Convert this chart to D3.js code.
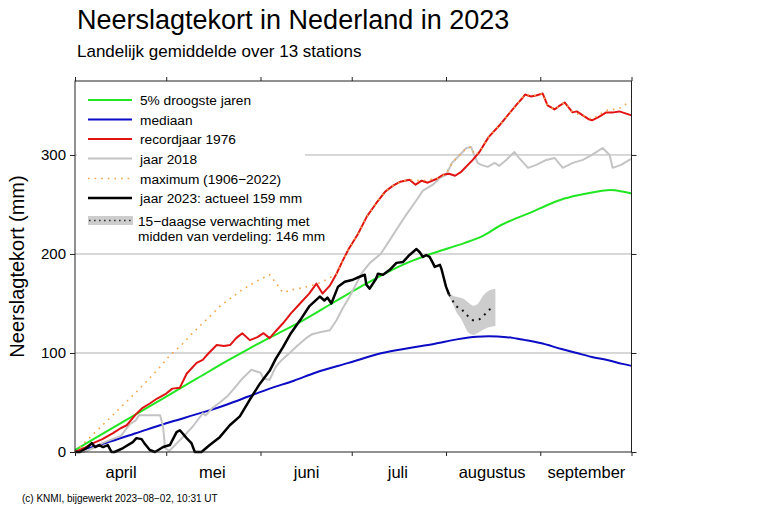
<!DOCTYPE html>
<html>
<head>
<meta charset="utf-8">
<script src="https://cdn.jsdelivr.net/npm/d3@7"></script>
<style>
  html, body { margin: 0; padding: 0; background: #fff; }
  svg { display: block; font-family: "Liberation Sans", Arial, Helvetica, sans-serif; }
</style>
</head>
<body>
<svg id="chart" width="770" height="513"></svg>
<script>
// ---------- data (day = days after 1 April 2023, value = mm) ----------
const titleText = "Neerslagtekort in Nederland in 2023";
const subtitleText = "Landelijk gemiddelde over 13 stations";
const footerText = "(c) KNMI, bijgewerkt 2023\u221208\u221202, 10:31 UT";
const yLabel = "Neerslagtekort (mm)";
const monthLabels = ["april", "mei", "juni", "juli", "augustus", "september"];
const yTicks = [0, 100, 200, 300];

const legendLabels = [
  "5% droogste jaren", "mediaan", "recordjaar 1976", "jaar 2018",
  "maximum (1906\u22122022)", "jaar 2023: actueel 159 mm"
];
const forecastLabel = ["15\u2212daagse verwachting met", "midden van verdeling: 146 mm"];

const droogste5 = [[0,2],[10,20],[20,38],[30,56],[40,74],[50,92],[57,104],[65,117],[75,133],[85,151],
  [94,167],[103,182],[110,192],[116,199],[123,206],[128,211],[134,218],[140,229],[145,236],[150,242],
  [155,249],[160,255],[165,259],[170,262],[176,264.5],[180,263],[183,261]];

const mediaan = [[0,0],[10,9],[20,19],[30,29],[42,40],[50,48],[57,56],[64,64],[72,72],[79,80],[90,90],
  [101,100],[110,105],[118,109],[126,114],[132,116.5],[136,117],[142,116],[148,113],[153,110],[160,104],
  [165,100],[170,96],[175,93],[180,89],[183,87]];

const jaar1976 = [[0,0],[3,4],[6,9],[9,13],[12.5,19],[15,24],[17,27],[20,38],[22,44],[24.6,49],[27,54],
  [30,59],[32,64],[34.5,65],[36.7,79],[40,90],[42,93],[44,100],[46.6,108],[49,107],[51,108],[53,115],
  [55,120],[57.5,113],[60,116],[62,120],[64,115],[66,122],[68.4,130],[71,140],[74,150],[77,160],
  [79.4,170],[81.4,160],[83.8,168],[86,180],[88,193],[90,205],[93,220],[96,238],[99,251],[102,263],
  [104.6,269],[107,273],[110,275],[112,270],[114,274],[116,272],[119,276],[121,280],[123,281],[125,279],
  [127,283],[130.8,295],[133,303],[136,318],[139.6,330],[142,339],[145,350],[147,357],[148,361],[150,359],
  [151.6,360],[153.8,362],[155.4,350],[157.7,346],[159,349],[161,353],[163.6,343],[165,344],[167,340],
  [169,336],[170,335],[172,338],[174.7,343],[177,343],[179,344],[181,342],[183,340]];

const jaar2018 = [[0,0],[3,0],[6,4],[9,9],[11.5,12],[15,16],[18,28],[20,32],[21,37],[23.6,37],[28,37],
  [29,25],[29.6,4],[31,1],[34.5,12],[36.7,19],[38.8,26],[42,39],[43,37],[45,44],[47.6,50],[50,56],[52,63],
  [55,74],[58,83],[61,80],[62,74],[64,73],[66,86],[68,93],[70.6,100],[73,107],[76,115],[78,119],[80.5,121],
  [83.8,123],[86,133],[88,145],[90.3,157],[92.5,170],[94.6,182],[97,191],[100.5,200],[103.5,214],
  [106,226],[109,240],[112,253],[114.4,264],[117.7,270],[120,277],[122,280],[124,292],[126.5,300],
  [128.7,307],[130.3,308],[131,302],[132.4,292],[133.6,290],[135.7,288],[138,292],[139.5,289],[141.8,295],
  [144.5,303],[146,297],[149,287],[151.7,290],[155,295],[157.7,297],[160.4,287],[163.7,292],[167,295],
  [170,300],[173.5,307],[175.8,300],[176.8,287],[179.6,290],[182.3,295],[183,296]];

const maximum = [[0,0],[5,15],[10,30],[15,45],[20,60],[25,76],[28,86],[31,97],[35,108],[38,118],[42,130],
  [45,139],[47.6,147],[51,155],[55,164],[60,173],[64,179],[66,171],[68.4,161],[71.6,164],[75,166],[79,169],
  [82.7,174],[86,180],[88,193],[90,205],[93,220],[96,238],[99,251],[102,263],[104.6,269],[107,273],
  [110,275],[114,274],[119,276],[122,281],[124,292],[126.5,300],[128.7,307],[130.3,308],[131.4,300],
  [133,303],[136,318],[139.6,330],[142,339],[145,350],[148,361],[151.6,360],[153.8,362],[155.4,350],
  [157.7,346],[161,353],[163.6,343],[167,340],[170,336],[172.5,341],[174.7,345],[177,346],[179,347],
  [181,351],[183,354]];

const jaar2023 = [[0,0],[1.6,0],[3.8,4],[5.5,9],[6.6,5],[8,7],[9.2,5],[10.8,7],[12,0],[13,0],[15.8,4],
  [19,10],[20.2,14],[21.9,13],[23,8],[24.6,2],[26.3,0],[29,5],[31.2,7],[33.4,20],[34.5,22],[36.7,14],
  [38.3,9],[39.4,0],[41.6,0],[44.3,7],[47.6,15],[50.9,27],[54.2,36],[57.5,53],[60.8,69],[64,82],[66,94],
  [68.4,106],[71,120],[74,133],[77,147],[80.5,157],[82,153],[83,156],[84.3,150],[86.5,167],[88.7,172],
  [91.4,174],[93.6,177],[95.3,179],[95.8,169],[96.9,165],[99,175],[99.6,180],[101.3,179],[103.5,184],
  [105.7,191],[107.9,192],[110,199],[112.3,205],[113.3,202],[114.4,197],[115.5,199],[116.6,197],
  [117.5,192],[118.3,187],[120,189],[120.5,185],[121,179],[122,167],[123,159]];

const verwachtingMidden = [[123,159],[124,154],[125,148],[126,146],[127,145],[128,141],[129.3,137],
  [130.9,133],[132,134],[133,134],[134.5,138],[135.8,143],[137,145],[138,146]];
const verwachtingBoven = [[123,160],[124.3,157],[125.4,156],[127.6,154],[129.3,150],[131,147],
  [132.6,149],[134.3,157],[136,162],[138,164]];
const verwachtingOnder = [[123,158],[124.3,151],[125.4,143],[127,137],[128.2,128],[129.3,122],[131,119],
  [133,122],[134.7,125],[136.3,127],[138,128]];

// ---------- layout ----------
const svg = d3.select("#chart");
const M = { left: 75, right: 631.5, top: 81, bottom: 452 };
const start = Date.UTC(2023, 3, 1);
const dayToDate = d => new Date(start + d * 864e5);

const x = d3.scaleUtc()
  .domain([new Date(Date.UTC(2023, 3, 1)), new Date(Date.UTC(2023, 9, 1))])
  .range([M.left, M.right]);
const y = d3.scaleLinear().domain([0, 374.7]).range([M.bottom, M.top]);

const col = {
  green: "#22e622", blue: "#0c0cc4", red: "#e01414", gray: "#c4c4c4",
  orange: "#f5a445", black: "#000", band: "#cdcdcd", grid: "#b0b0b0"
};

// titles
svg.append("text").attr("x", 77).attr("y", 29).attr("font-size", 27).attr("fill", "#000").text(titleText);
svg.append("text").attr("x", 77).attr("y", 57).attr("font-size", 17).attr("fill", "#000").text(subtitleText);
svg.append("text").attr("x", 22).attr("y", 502).attr("font-size", 10).attr("fill", "#000").text(footerText);
svg.append("text")
  .attr("transform", `translate(24,${(M.top + M.bottom) / 2}) rotate(-90)`)
  .attr("text-anchor", "middle").attr("font-size", 20).text(yLabel);

// gridlines
svg.append("g").selectAll("line").data(yTicks.filter(v => v > 0)).join("line")
  .attr("x1", M.left).attr("x2", M.right)
  .attr("y1", d => y(d)).attr("y2", d => y(d))
  .attr("stroke", col.grid).attr("stroke-width", 1);

// line helpers
const lineGen = (curve) => d3.line()
  .x(d => x(dayToDate(d[0]))).y(d => y(d[1])).curve(curve || d3.curveLinear);

const plot = svg.append("g");
plot.append("path").datum(droogste5).attr("d", lineGen(d3.curveMonotoneX))
  .attr("fill", "none").attr("stroke", col.green).attr("stroke-width", 2);
plot.append("path").datum(mediaan).attr("d", lineGen(d3.curveMonotoneX))
  .attr("fill", "none").attr("stroke", col.blue).attr("stroke-width", 2);
plot.append("path").datum(jaar2018).attr("d", lineGen())
  .attr("fill", "none").attr("stroke", col.gray).attr("stroke-width", 2).attr("stroke-linejoin", "round");
plot.append("path").datum(jaar1976).attr("d", lineGen())
  .attr("fill", "none").attr("stroke", col.red).attr("stroke-width", 2).attr("stroke-linejoin", "round");
plot.append("path").datum(maximum).attr("d", lineGen())
  .attr("fill", "none").attr("stroke", col.orange).attr("stroke-width", 1.6)
  .attr("stroke-dasharray", "1.6,5");

// forecast band (upper edge, lower edge read at the same days)
const area = d3.area()
  .x(d => x(dayToDate(d[0]))).y0(d => y(d[1])).y1(d => y(d[2])).curve(d3.curveMonotoneX);
const lowAt = d3.scaleLinear().domain(verwachtingOnder.map(d => d[0])).range(verwachtingOnder.map(d => d[1]));
const bandPts = verwachtingBoven.map(d => [d[0], lowAt(d[0]), d[1]]);
plot.append("path").datum(bandPts).attr("d", area).attr("fill", col.band).attr("stroke", col.band).attr("stroke-width", 1.5);

plot.append("path").datum(jaar2023).attr("d", lineGen())
  .attr("fill", "none").attr("stroke", col.black).attr("stroke-width", 2.5).attr("stroke-linejoin", "round");
plot.append("path").datum(verwachtingMidden).attr("d", lineGen())
  .attr("fill", "none").attr("stroke", "#111").attr("stroke-width", 2)
  .attr("stroke-dasharray", "2,5");

// legend
const lg = svg.append("g");
lg.append("rect").attr("x", 77).attr("y", 83).attr("width", 228).attr("height", 164).attr("fill", "#fff");
const legendStyles = [
  { c: col.green, w: 2 }, { c: col.blue, w: 2 }, { c: col.red, w: 2 }, { c: col.gray, w: 2 },
  { c: col.orange, w: 1.6, dash: "1.6,5" }, { c: col.black, w: 2.5 }
];
const rowY = [100, 119.5, 139, 158.5, 178.5, 198];
legendLabels.forEach((t, i) => {
  const s = legendStyles[i];
  lg.append("line").attr("x1", 88).attr("x2", 132).attr("y1", rowY[i]).attr("y2", rowY[i])
    .attr("stroke", s.c).attr("stroke-width", s.w).attr("stroke-dasharray", s.dash || null);
  lg.append("text").attr("x", 140).attr("y", rowY[i] + 5).attr("font-size", 13.7).text(t);
});
lg.append("rect").attr("x", 88).attr("y", 216).attr("width", 45).attr("height", 9).attr("fill", col.band);
lg.append("line").attr("x1", 89).attr("x2", 132).attr("y1", 220.5).attr("y2", 220.5)
  .attr("stroke", "#333").attr("stroke-width", 1.6).attr("stroke-dasharray", "1.6,3.4");
lg.append("text").attr("x", 138).attr("y", 226).attr("font-size", 13.7).text(forecastLabel[0]);
lg.append("text").attr("x", 138).attr("y", 241).attr("font-size", 13.7).text(forecastLabel[1]);

// frame
svg.append("rect").attr("x", M.left).attr("y", M.top)
  .attr("width", M.right - M.left).attr("height", M.bottom - M.top)
  .attr("fill", "none").attr("stroke", "#222").attr("stroke-width", 1);

// axes
const monthTicks = d3.utcMonth.range(new Date(Date.UTC(2023, 3, 1)), new Date(Date.UTC(2023, 9, 2)));
const bottomAx = svg.append("g").attr("transform", `translate(0,${M.bottom})`)
  .call(d3.axisBottom(x).tickValues(monthTicks).tickSize(4).tickFormat(""));
const topAx = svg.append("g").attr("transform", `translate(0,${M.top})`)
  .call(d3.axisTop(x).tickValues(monthTicks).tickSize(4).tickFormat(""));
const midMonths = monthLabels.map((m, i) => new Date(Date.UTC(2023, 3 + i, 16)));
const labelAx = svg.append("g").attr("transform", `translate(0,${M.bottom})`)
  .call(d3.axisBottom(x).tickValues(midMonths).tickSize(0).tickPadding(14)
    .tickFormat((d, i) => monthLabels[i]));
labelAx.selectAll("text").attr("font-size", 16.5).attr("fill", "#000")
  .attr("font-family", "'Liberation Sans', Arial, sans-serif");
const leftAx = svg.append("g").attr("transform", `translate(${M.left},0)`)
  .call(d3.axisLeft(y).tickValues(yTicks).tickSize(5).tickPadding(4).tickFormat(d3.format("d")));
leftAx.selectAll("text").attr("font-size", 15).attr("fill", "#000")
  .attr("font-family", "'Liberation Sans', Arial, sans-serif");
const rightAx = svg.append("g").attr("transform", `translate(${M.right},0)`)
  .call(d3.axisRight(y).tickValues(yTicks).tickSize(5).tickFormat(""));
[bottomAx, topAx, labelAx, leftAx, rightAx].forEach(g => {
  g.select(".domain").remove();
  g.selectAll("line").attr("stroke", "#222");
});
</script>
</body>
</html>
